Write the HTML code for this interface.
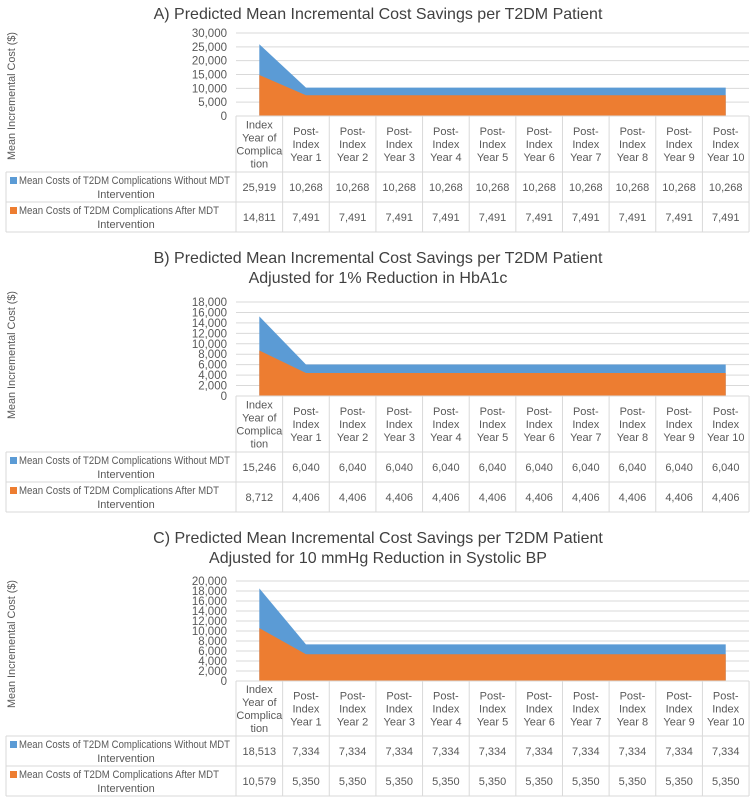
<!DOCTYPE html>
<html><head><meta charset="utf-8">
<style>
html,body{margin:0;padding:0;background:#fff;}
svg{display:block;font-family:"Liberation Sans",sans-serif;}
</style></head>
<body>
<svg id="root" width="753" height="802" viewBox="0 0 753 802"></svg>
<script>
const categories = ["Index|Year of|Complica|tion","Post-|Index|Year 1","Post-|Index|Year 2","Post-|Index|Year 3","Post-|Index|Year 4","Post-|Index|Year 5","Post-|Index|Year 6","Post-|Index|Year 7","Post-|Index|Year 8","Post-|Index|Year 9","Post-|Index|Year 10"];
const seriesNames = [["Mean Costs of T2DM Complications Without MDT","Intervention"],["Mean Costs of T2DM Complications After MDT","Intervention"]];
const withoutA = [25919,10268,10268,10268,10268,10268,10268,10268,10268,10268,10268];
const afterA = [14811,7491,7491,7491,7491,7491,7491,7491,7491,7491,7491];
const withoutB = [15246,6040,6040,6040,6040,6040,6040,6040,6040,6040,6040];
const afterB = [8712,4406,4406,4406,4406,4406,4406,4406,4406,4406,4406];
const withoutC = [18513,7334,7334,7334,7334,7334,7334,7334,7334,7334,7334];
const afterC = [10579,5350,5350,5350,5350,5350,5350,5350,5350,5350,5350];
const ticksA = [0,5000,10000,15000,20000,25000,30000];
const ticksB = [0,2000,4000,6000,8000,10000,12000,14000,16000,18000];
const ticksC = [0,2000,4000,6000,8000,10000,12000,14000,16000,18000,20000];
const titlesA = ["A) Predicted Mean Incremental Cost Savings  per T2DM Patient"];
const titlesB = ["B) Predicted Mean Incremental Cost Savings per T2DM Patient","Adjusted for 1% Reduction in HbA1c"];
const titlesC = ["C) Predicted Mean Incremental Cost Savings per T2DM Patient","Adjusted for 10 mmHg Reduction in Systolic BP"];

const NS="http://www.w3.org/2000/svg";
const root=document.getElementById('root');
function mk(tag,attrs,parent){const e=document.createElementNS(NS,tag);for(const k in attrs)e.setAttribute(k,attrs[k]);(parent||root).appendChild(e);return e;}
const fmt=v=>v.toLocaleString('en-US');
const TL=236, CW=46.64, TR=749, LX=6;

function chart(name,titles,titleY,ticks,without,after,plotTop,plotBot,hdrBot,r1Bot,r2Bot,labelY){
  const g=mk('g',{});
  
  
  titles.forEach((t,i)=>{const e=mk('text',{x:378,y:titleY+i*20,'text-anchor':'middle','font-size':16,fill:'#404040'},g);e.textContent=t;
    });
  const maxV=ticks[ticks.length-1];
  const y=v=>plotBot-(v/maxV)*(plotBot-plotTop);
  const x=i=>TL+CW*(i+0.5);
  ticks.forEach(t=>{
    if(t>0){const l=mk('line',{x1:TL,x2:TR,y1:y(t),y2:y(t),stroke:'#d9d9d9','stroke-width':1},g);
      }
    const e=mk('text',{x:227,y:y(t)+4,'text-anchor':'end','font-size':11.5,fill:'#595959'},g);e.textContent=fmt(t);
    
  });
  const area=(vals,col,nm)=>{let d='M'+x(0)+','+y(0);vals.forEach((v,i)=>d+=' L'+x(i)+','+y(v));d+=' L'+x(vals.length-1)+','+y(0)+' Z';
    const p=mk('path',{d:d,fill:col},g);};
  area(without,'#5b9bd5','area-without-mdt');
  area(after,'#ed7d31','area-after-mdt');
  const yl=mk('text',{x:0,y:0,transform:'translate(15,'+labelY+') rotate(-90)','text-anchor':'middle','font-size':11,fill:'#595959',textLength:128,lengthAdjust:'spacingAndGlyphs'},g);
  yl.textContent='Mean Incremental Cost  ($)';
  
  const st='#d9d9d9';
  const hl=(yy,x1)=>mk('line',{x1:x1,x2:TR,y1:yy,y2:yy,stroke:st},g);
  hl(plotBot,TL);hl(hdrBot,LX);hl(r1Bot,LX);hl(r2Bot,LX);
  for(let i=0;i<=categories.length;i++){const xx=TL+CW*i;mk('line',{x1:xx,x2:xx,y1:plotBot,y2:r2Bot,stroke:st},g);}
  mk('line',{x1:LX,x2:LX,y1:hdrBot,y2:r2Bot,stroke:st},g);
  categories.forEach((c,i)=>{const lines=c.split('|');const cy=(plotBot+hdrBot)/2;const lh=13;
    lines.forEach((ln,j)=>{const e=mk('text',{x:x(i),y:cy+(j-(lines.length-1)/2)*lh+4,'text-anchor':'middle','font-size':11,fill:'#595959'},g);e.textContent=ln;
      });
  });
  [[without,'#5b9bd5',plotBot,hdrBot,r1Bot,211],[after,'#ed7d31',plotBot,r1Bot,r2Bot,200]].forEach((r,k)=>{
    const top=r[3],bot=r[4],cy=(top+bot)/2;
    const sw=mk('rect',{x:10,y:cy-10,width:7,height:7,fill:r[1]},g);
    
    const t1=mk('text',{x:19,y:cy-3,'font-size':11,fill:'#595959',textLength:r[5],lengthAdjust:'spacingAndGlyphs'},g);t1.textContent=seriesNames[k][0];
    
    const t2=mk('text',{x:126,y:cy+11,'text-anchor':'middle','font-size':11,fill:'#595959'},g);t2.textContent=seriesNames[k][1];
    r[0].forEach((v,i)=>{const e=mk('text',{x:x(i),y:cy+4,'text-anchor':'middle','font-size':11,fill:'#595959'},g);e.textContent=fmt(v);
      });
  });
}
chart('chart-a',titlesA,19,ticksA,withoutA,afterA,33,116,172,202,232,96);
chart('chart-b',titlesB,263,ticksB,withoutB,afterB,302,396,452,482,512,355);
chart('chart-c',titlesC,543,ticksC,withoutC,afterC,581,681,736,766,796,644);
</script>
</body></html>
